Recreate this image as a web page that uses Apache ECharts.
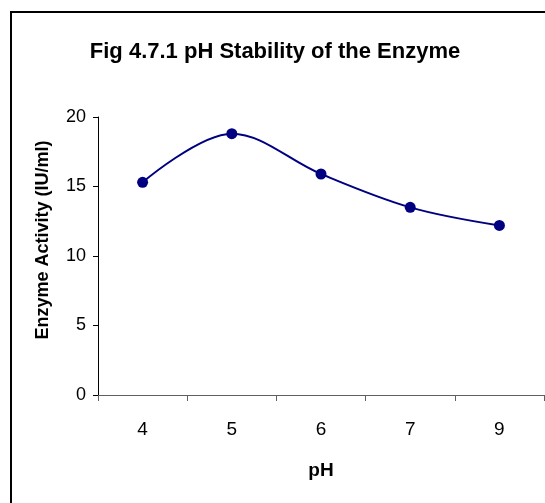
<!DOCTYPE html>
<html>
<head>
<meta charset="utf-8">
<script src="https://cdn.jsdelivr.net/npm/echarts@6/dist/echarts.min.js"></script>
<style>
  html, body { margin: 0; padding: 0; background: #fff; }
  #chart { width: 545px; height: 503px; }
</style>
</head>
<body>
<div id="chart"></div>
<script>
// pH values tested and the measured activity
const phLevels = ['4', '5', '6', '7', '9']
const activity = [15.3, 18.8, 15.9, 13.5, 12.2]
const yTicks = [0, 5, 10, 15, 20]

const navy = '#000080'
const chart = echarts.init(document.getElementById('chart'))

chart.setOption({
  animation: false,
  backgroundColor: '#fff',
  title: {
    text: 'Fig 4.7.1 pH Stability of the Enzyme',
    left: 270,
    textAlign: 'center',
    top: 36,
    textStyle: {
      fontFamily: 'Liberation Sans, Arial',
      fontWeight: 'bold',
      fontSize: 22,
      color: '#000'
    }
  },
  graphic: [{
    type: 'rect',
    shape: {x: 11, y: 12, width: 620, height: 620},
    style: {fill: 'none', stroke: '#000', lineWidth: 2},
    silent: true
  }],
  grid: {
    left: 98,
    right: 1,
    top: 117,
    bottom: 108
  },
  xAxis: {
    type: 'category',
    data: phLevels,
    boundaryGap: true,
    name: 'pH',
    nameLocation: 'middle',
    nameGap: 66,
    nameTextStyle: {
      fontFamily: 'Liberation Sans, Arial',
      fontWeight: 'bold',
      fontSize: 19,
      color: '#000'
    },
    axisLine: {lineStyle: {color: '#606060', width: 1}},
    axisTick: {show: true, alignWithLabel: false, length: 6, lineStyle: {color: '#606060'}},
    axisLabel: {
      margin: 25,
      fontFamily: 'Liberation Sans, Arial',
      fontSize: 19,
      color: '#000'
    },
    splitLine: {show: false}
  },
  yAxis: {
    type: 'value',
    min: yTicks[0],
    max: yTicks[yTicks.length - 1],
    interval: 5,
    name: 'Enzyme Activity (IU/ml)',
    nameLocation: 'middle',
    nameGap: 46,
    nameTextStyle: {
      fontFamily: 'Liberation Sans, Arial',
      fontWeight: 'bold',
      fontSize: 18,
      color: '#000',
      padding: [0, 0, 0, 32]
    },
    axisLine: {show: true, lineStyle: {color: '#000', width: 1}},
    axisTick: {show: true, inside: false, length: 5, lineStyle: {color: '#000'}},
    axisLabel: {
      margin: 12,
      fontFamily: 'Liberation Sans, Arial',
      fontSize: 18,
      color: '#000'
    },
    splitLine: {show: false}
  },
  series: [
    {
      name: 'activity',
      type: 'line',
      data: activity,
      smooth: 0.35,
      symbol: 'circle',
      symbolSize: 11,
      lineStyle: {color: navy, width: 2},
      itemStyle: {color: navy}
    }
  ]
})
</script>
</body>
</html>
